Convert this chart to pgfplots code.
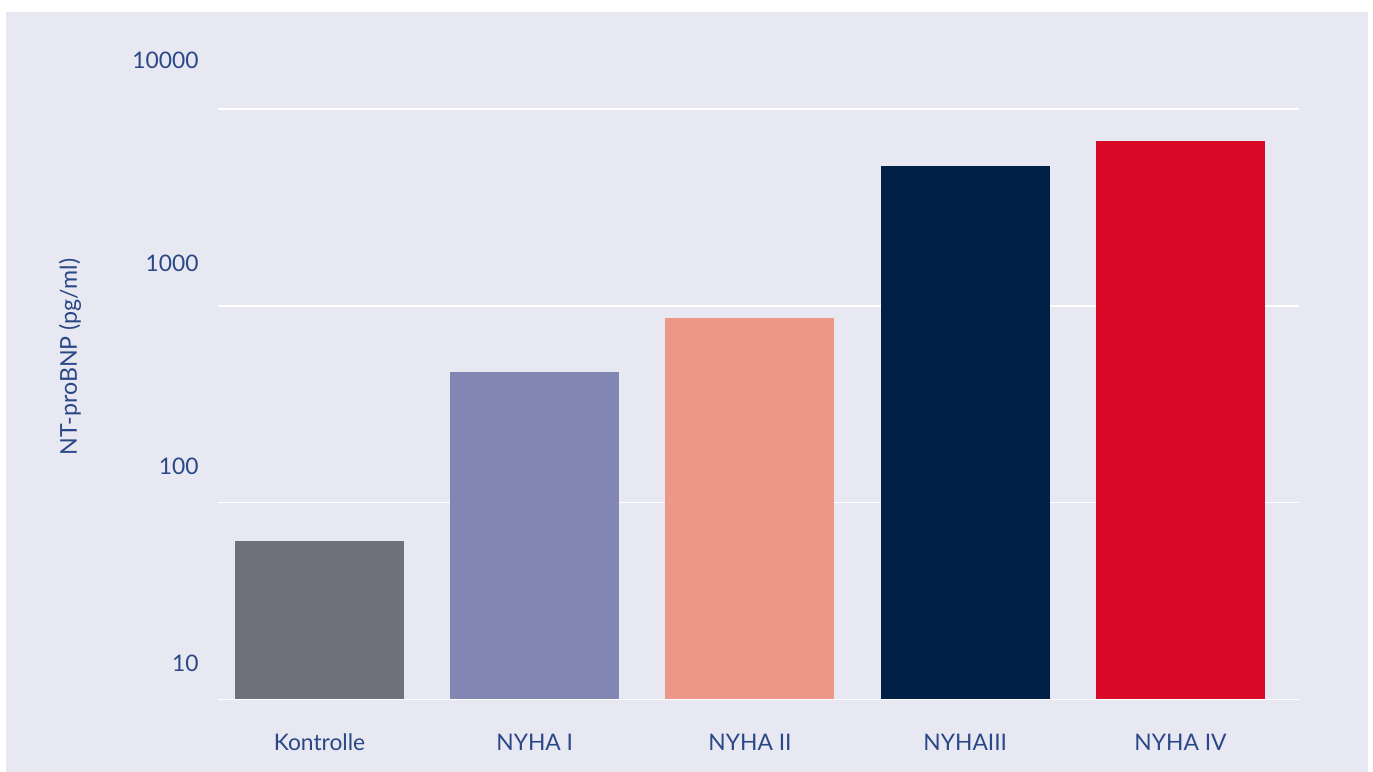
\documentclass[border=0pt]{standalone}
\usepackage{fontspec}
\setmainfont{Lato}
\usepackage{pgfplots}
\pgfplotsset{compat=1.18}
\definecolor{bg}{RGB}{232,232,242}
\definecolor{txt}{RGB}{42,72,135}
\definecolor{cK}{RGB}{111,113,122}
\definecolor{cI}{RGB}{129,135,178}
\definecolor{cII}{RGB}{236,151,135}
\definecolor{cIII}{RGB}{1,32,69}
\definecolor{cIV}{RGB}{217,10,40}
\begin{document}
\begin{tikzpicture}
\path[use as bounding box, fill=white] (0,0) rectangle (686.5pt,386pt);
\fill[bg] (3pt,0) rectangle (684pt,380pt);
\begin{axis}[
  at={(109pt,36.25pt)}, anchor=south west,
  scale only axis, width=540.5pt, height=295.25pt,
  ymode=log, ymin=10, ymax=10000, log origin=infty,
  xmin=-0.4715, xmax=4.5505,
  axis line style={draw=none}, major tick style={draw=none}, minor tick style={draw=none},
  ytick={10,100,1000,10000},
  yticklabels={10,\raisebox{0.25pt}[\height][\depth]{100},\raisebox{3pt}[\height][\depth]{1000},\raisebox{6.25pt}[\height][\depth]{10000}},
  ymajorgrids, yminorgrids=false, grid style={white, line width=0.75pt},
  xtick={0,1,2,3,4},
  xticklabels={Kontrolle,NYHA I,NYHA II,NYHAIII,NYHA IV},
  ticklabel style={font=\fontsize{11.4}{13.5}\selectfont, text=txt},
  xticklabel style={anchor=base, yshift=-21.2pt},
  yticklabel style={anchor=base east, xshift=-6.2pt, yshift=14pt},
  ylabel={NT-proBNP (pg/ml)},
  ylabel style={at={(axis description cs:-0.1369,0.58)}, anchor=center, font=\fontsize{11.6}{13.5}\selectfont, text=txt},
  ybar, bar width=84.5pt, bar shift=0pt,
]
\addplot[fill=cK, draw=none] coordinates {(0,63.9)};
\addplot[fill=cI, draw=none] coordinates {(1,461)};
\addplot[fill=cII, draw=none] coordinates {(2,868)};
\addplot[fill=cIII, draw=none] coordinates {(3,5140)};
\addplot[fill=cIV, draw=none] coordinates {(4,6885)};
\end{axis}
\end{tikzpicture}
\end{document}
